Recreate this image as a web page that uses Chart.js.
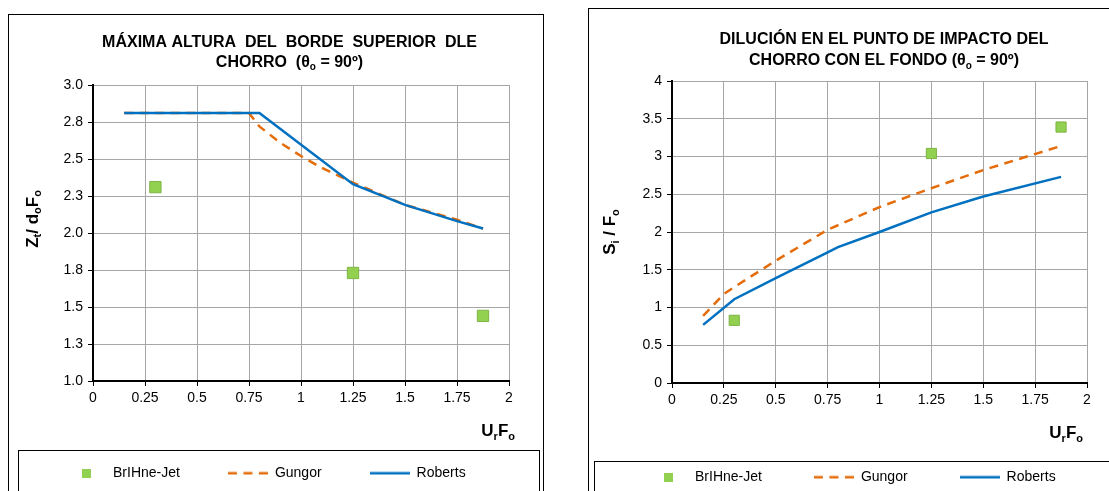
<!DOCTYPE html>
<html><head><meta charset="utf-8">
<script src="https://cdn.jsdelivr.net/npm/chart.js@4"></script>
<style>
html,body{margin:0;padding:0;background:#fff;overflow:hidden;width:1109px;height:491px;position:relative}
canvas{position:absolute;top:0}
#c1{left:0}
#c2{left:560px}
</style></head><body>
<canvas id="c1" width="560" height="500"></canvas>
<canvas id="c2" width="580" height="500"></canvas>
<script>
// ---------- data ----------
const seriesNames = ['BrIHne-Jet', 'Gungor', 'Roberts'];
const xTickLabels = ['0', '0.25', '0.5', '0.75', '1', '1.25', '1.5', '1.75', '2'];
const leftYTickLabels = ['1.0', '1.3', '1.5', '1.8', '2.0', '2.3', '2.5', '2.8', '3.0'];
const rightYTickLabels = ['0', '0.5', '1', '1.5', '2', '2.5', '3', '3.5', '4'];

// left chart: MÁXIMA ALTURA DEL BORDE SUPERIOR
const leftJetX = [0.3, 1.25, 1.875];
const leftJetY = [2.31, 1.73, 1.44];
const leftGungorX = [0.15, 0.75, 0.8, 0.9, 1.0, 1.1, 1.25, 1.5, 1.6, 1.75, 1.875];
const leftGungorY = [2.81, 2.81, 2.72, 2.61, 2.52, 2.44, 2.34, 2.19, 2.15, 2.09, 2.03];
const leftRobertsX = [0.15, 0.8, 1.25, 1.5, 1.75, 1.875];
const leftRobertsY = [2.81, 2.81, 2.33, 2.19, 2.08, 2.03];

// right chart: DILUCIÓN EN EL PUNTO DE IMPACTO
const rightJetX = [0.3, 1.25, 1.875];
const rightJetY = [0.83, 3.04, 3.39];
const rightGungorX = [0.15, 0.25, 0.3, 0.5, 0.75, 1.0, 1.25, 1.5, 1.875];
const rightGungorY = [0.89, 1.18, 1.27, 1.62, 2.03, 2.33, 2.58, 2.82, 3.14];
const rightRobertsX = [0.15, 0.3, 0.5, 0.75, 0.8, 1.0, 1.25, 1.5, 1.875];
const rightRobertsY = [0.77, 1.11, 1.39, 1.73, 1.80, 2.0, 2.26, 2.47, 2.73];

// ---------- styling ----------
const FONT = '"Liberation Sans", Arial, Helvetica, sans-serif';
Chart.defaults.font.family = FONT;
Chart.defaults.color = '#000';
const GREEN = '#92D050', ORANGE = '#E46C0A', BLUE = '#0070C0';
const DASH = [9, 6.5];

function sample(kind, color) {
  const c = document.createElement('canvas');
  const g = c.getContext('2d');
  if (kind === 'square') {
    c.width = 9; c.height = 9;
    g.fillStyle = color; g.fillRect(0, 0, 9, 9);
  } else {
    c.width = 40; c.height = 4;
    g.strokeStyle = color; g.lineWidth = 2.5;
    if (kind === 'dash') g.setLineDash(DASH);
    g.beginPath(); g.moveTo(0, 2); g.lineTo(40, 2); g.stroke();
  }
  return c;
}
const legendSamples = [sample('square', GREEN), sample('dash', ORANGE), sample('line', BLUE)];

const pts = (xs, ys) => xs.map((x, i) => ({x: x, y: ys[i]}));

function drawRich(ctx, parts, x, y, size, align) {
  const big = 'bold ' + size + 'px ' + FONT;
  const small = 'bold ' + Math.round(size * 0.62) + 'px ' + FONT;
  let total = 0;
  const widths = parts.map(p => { ctx.font = p[1] ? small : big; const w = ctx.measureText(p[0]).width; total += w; return w; });
  let cx = align === 'center' ? x - total / 2 : (align === 'right' ? x - total : x);
  ctx.textAlign = 'left';
  ctx.textBaseline = 'alphabetic';
  parts.forEach((p, i) => {
    ctx.font = p[1] ? small : big;
    ctx.fillText(p[0], cx, y + (p[1] ? size * 0.22 : 0));
    cx += widths[i];
  });
}

const deco = {
  c1: {
    frame: [8, 14, 535, 600], legendFrame: [18, 450, 521, 100],
    titleX: 289.5, titleSize: 16,
    titleLines: [[['MÁXIMA ALTURA  DEL  BORDE  SUPERIOR  DLE', 0]], [['CHORRO  (θ', 0], ['o', 1], [' = 90º)', 0]]],
    titleBase: [46.5, 66.5],
    yTitle: {x: 31.5, y: 219, parts: [['Z', 0], ['t', 1], ['/ d', 0], ['o', 1], ['F', 0], ['o', 1]]},
    xTitle: {x: 515, y: 436, parts: [['U', 0], ['r', 1], ['F', 0], ['o', 1]]}
  },
  c2: {
    frame: [28, 8, 700, 600], legendFrame: [34, 461, 700, 100],
    titleX: 324, titleSize: 16,
    titleLines: [[['DILUCIÓN EN EL PUNTO DE IMPACTO DEL', 0]], [['CHORRO CON EL FONDO (θ', 0], ['o', 1], [' = 90º)', 0]]],
    titleBase: [44, 65],
    yTitle: {x: 49, y: 232, parts: [['S', 0], ['i', 1], [' / F', 0], ['o', 1]]},
    xTitle: {x: 523, y: 438, parts: [['U', 0], ['r', 1], ['F', 0], ['o', 1]]}
  }
};

const decoPlugin = {
  id: 'deco',
  beforeDraw(chart) {
    const d = deco[chart.canvas.id];
    const ctx = chart.ctx;
    ctx.save();
    ctx.fillStyle = '#fff';
    ctx.fillRect(0, 0, chart.width, chart.height);
    ctx.strokeStyle = '#000';
    ctx.lineWidth = 1;
    let f = d.frame;
    ctx.strokeRect(f[0] + 0.5, f[1] + 0.5, f[2], f[3]);
    f = d.legendFrame;
    ctx.strokeRect(f[0] + 0.5, f[1] + 0.5, f[2], f[3]);
    ctx.restore();
  },
  afterDraw(chart) {
    const d = deco[chart.canvas.id];
    const ctx = chart.ctx;
    ctx.save();
    ctx.fillStyle = '#000';
    d.titleLines.forEach((parts, i) => drawRich(ctx, parts, d.titleX, d.titleBase[i], d.titleSize, 'center'));
    drawRich(ctx, d.xTitle.parts, d.xTitle.x, d.xTitle.y, 17, 'right');
    ctx.translate(d.yTitle.x, d.yTitle.y);
    ctx.rotate(-Math.PI / 2);
    drawRich(ctx, d.yTitle.parts, 0, 17 * 0.36, 17, 'center');
    ctx.restore();
  }
};

function makeChart(id, s) {
  const datasets = [
    {label: seriesNames[0], data: pts(s.jetX, s.jetY), showLine: false, pointStyle: 'rect',
     pointRadius: s.r, backgroundColor: GREEN, borderColor: '#7EB443', borderWidth: 1, order: 0},
    {label: seriesNames[1], data: pts(s.gX, s.gY), showLine: true, borderColor: ORANGE, backgroundColor: ORANGE,
     borderWidth: 2.5, borderDash: DASH, pointRadius: 0, tension: 0, fill: false, order: 2},
    {label: seriesNames[2], data: pts(s.rX, s.rY), showLine: true, borderColor: BLUE, backgroundColor: BLUE,
     borderWidth: 2.5, pointRadius: 0, tension: 0, fill: false, order: 1}
  ];
  return new Chart(document.getElementById(id), {
    type: 'scatter',
    data: {datasets: datasets},
    plugins: [decoPlugin],
    options: {
      responsive: false, animation: false, events: [],
      layout: {padding: {left: s.L, right: 0, top: s.T, bottom: s.B}},
      plugins: {
        tooltip: {enabled: false},
        title: {display: false},
        legend: {
          position: 'bottom', align: 'start',
          labels: {
            usePointStyle: true, pointStyleWidth: 40, padding: s.p, color: '#000',
            font: {size: 14, family: FONT},
            generateLabels: (chart) => chart.data.datasets.map((ds, i) => ({
              text: ds.label, datasetIndex: i, fontColor: '#000', hidden: false,
              pointStyle: legendSamples[i], lineWidth: 0,
              strokeStyle: 'rgba(0,0,0,0)', fillStyle: 'rgba(0,0,0,0)'
            }))
          }
        }
      },
      scales: {
        x: {
          type: 'linear', position: 'bottom', min: 0, max: 2,
          ticks: {stepSize: 0.25, autoSkip: false, maxRotation: 0, color: '#000', font: {size: 14}, padding: 4,
                  callback: (v, i) => xTickLabels[i]},
          grid: {color: '#A6A6A6', lineWidth: 1, tickColor: '#000', tickLength: 5, drawTicks: true},
          border: {color: '#000', width: 2},
          afterFit: (sc) => { sc.height = s.xh; sc.paddingLeft = 0; sc.paddingRight = 0; }
        },
        y: {
          type: 'linear', position: 'left', min: s.ymin, max: s.ymax,
          ticks: {stepSize: s.ystep, autoSkip: false, color: '#000', font: {size: 14}, padding: 5,
                  callback: (v, i) => s.ylabels[i]},
          grid: {color: '#A6A6A6', lineWidth: 1, tickColor: '#000', tickLength: 5, drawTicks: true},
          border: {color: '#000', width: 2},
          afterFit: (sc) => { sc.width = s.yw; sc.paddingTop = 0; sc.paddingBottom = 0; }
        },
        yR: {
          type: 'linear', position: 'right', display: true,
          grid: {display: false, drawTicks: false}, ticks: {display: false}, border: {display: false},
          afterFit: (sc) => { sc.width = s.rw; sc.paddingTop = 0; sc.paddingBottom = 0; }
        }
      }
    }
  });
}

makeChart('c1', {
  jetX: leftJetX, jetY: leftJetY, gX: leftGungorX, gY: leftGungorY, rX: leftRobertsX, rY: leftRobertsY,
  ymin: 1, ymax: 3, ystep: 0.25, ylabels: leftYTickLabels, r: 8,
  L: 18, T: 85, B: 9.7, p: 48, xh: 37.3, yw: 75, rw: 51
});
makeChart('c2', {
  jetX: rightJetX, jetY: rightJetY, gX: rightGungorX, gY: rightGungorY, rX: rightRobertsX, rY: rightRobertsY,
  ymin: 0, ymax: 4, ystep: 0.5, ylabels: rightYTickLabels, r: 7.2,
  L: 36, T: 81, B: 5.7, p: 52, xh: 35.3, yw: 76, rw: 53
});
</script>
</body></html>
